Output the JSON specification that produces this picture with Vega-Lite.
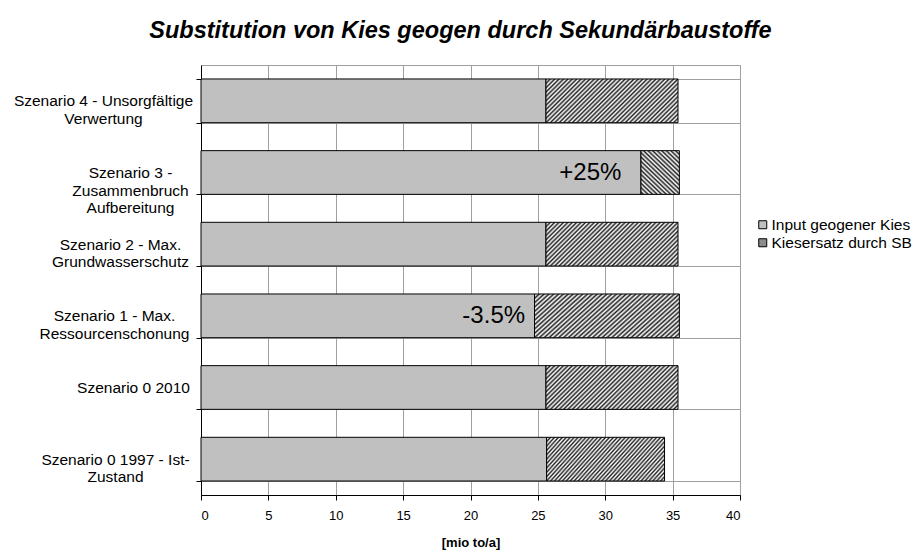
{
  "$schema": "https://vega.github.io/schema/vega-lite/v6.json",
  "width": 539,
  "height": 430,
  "autosize": "none",
  "padding": {"left": 201, "top": 65, "right": 175, "bottom": 60},
  "background": "white",
  "config": {"view": {"stroke": "#a0a0a0", "strokeWidth": 1}, "font": "Liberation Sans"},
  "title": {
    "text": "Substitution von Kies geogen durch Sekundärbaustoffe",
    "font": "Liberation Sans",
    "fontSize": 23.5,
    "fontWeight": "bold",
    "fontStyle": "italic",
    "color": "black",
    "anchor": "middle",
    "dx": -10,
    "offset": 16
  },
  "datasets": {
    "bars": [
      {"scenario": "Szenario 4 - Unsorgfältige\nVerwertung", "type": "Input geogener Kies", "value": 25.6},
      {"scenario": "Szenario 4 - Unsorgfältige\nVerwertung", "type": "Kiesersatz durch SB", "value": 9.8},
      {"scenario": "Szenario 3 -\nZusammenbruch\nAufbereitung", "type": "Input geogener Kies", "value": 32.65},
      {"scenario": "Szenario 3 -\nZusammenbruch\nAufbereitung", "type": "Kiesersatz durch SB", "value": 2.85},
      {"scenario": "Szenario 2 - Max.\nGrundwasserschutz", "type": "Input geogener Kies", "value": 25.6},
      {"scenario": "Szenario 2 - Max.\nGrundwasserschutz", "type": "Kiesersatz durch SB", "value": 9.8},
      {"scenario": "Szenario 1 - Max.\nRessourcenschonung", "type": "Input geogener Kies", "value": 24.75},
      {"scenario": "Szenario 1 - Max.\nRessourcenschonung", "type": "Kiesersatz durch SB", "value": 10.75},
      {"scenario": "Szenario 0 2010", "type": "Input geogener Kies", "value": 25.6},
      {"scenario": "Szenario 0 2010", "type": "Kiesersatz durch SB", "value": 9.8},
      {"scenario": "Szenario 0 1997 - Ist-\nZustand", "type": "Input geogener Kies", "value": 25.65},
      {"scenario": "Szenario 0 1997 - Ist-\nZustand", "type": "Kiesersatz durch SB", "value": 8.75}
    ],
    "annot": [
      {"scenario": "Szenario 3 -\nZusammenbruch\nAufbereitung", "pos": 31.2, "label": "+25%"},
      {"scenario": "Szenario 1 - Max.\nRessourcenschonung", "pos": 24.05, "label": "-3.5%"}
    ]
  },
  "layer": [
    {
      "data": {"name": "bars"},
      "mark": {"type": "bar", "stroke": "black", "strokeWidth": 1},
      "encoding": {
        "y": {
          "field": "scenario",
          "type": "nominal",
          "sort": null,
          "scale": {
            "domain": [
              "Szenario 4 - Unsorgfältige\nVerwertung",
              "Szenario 3 -\nZusammenbruch\nAufbereitung",
              "Szenario 2 - Max.\nGrundwasserschutz",
              "Szenario 1 - Max.\nRessourcenschonung",
              "Szenario 0 2010",
              "Szenario 0 1997 - Ist-\nZustand"
            ],
            "paddingInner": 0.39,
            "paddingOuter": 0.195
          },
          "axis": {
            "title": null,
            "tickBand": "extent",
            "grid": true,
            "gridColor": "#a0a0a0",
            "gridWidth": 1,
            "domainColor": "black",
            "tickColor": "black",
            "tickSize": 5,
            "labelFont": "Liberation Sans",
            "labelFontSize": 15.5,
            "labelColor": "black",
            "labelAlign": "center",
            "labelBaseline": "middle",
            "labelPadding": {"expr": "datum.value == null ? 0 : datum.value[9] === '4' ? 93 : datum.value[9] === '3' ? 66 : datum.value[9] === '2' ? 76 : datum.value[9] === '1' ? 82 : datum.value[11] === '2' ? 63 : 81"},
            "labelLineHeight": 17.5,
            "labelLimit": 0,
            "labelExpr": "datum.value == null ? '' : split(datum.value, '\\n')"
          }
        },
        "x": {
          "field": "value",
          "type": "quantitative",
          "stack": "zero",
          "scale": {"domain": [0, 40], "nice": false},
          "axis": {
            "values": [0, 5, 10, 15, 20, 25, 30, 35, 40],
            "grid": true,
            "gridColor": "#a0a0a0",
            "domainColor": "black",
            "tickColor": "black",
            "tickSize": 5,
            "labelFont": "Liberation Sans",
            "labelFontSize": 13,
            "labelColor": "black",
            "labelPadding": 9,
            "title": "[mio to/a]",
            "titleFont": "Liberation Sans",
            "titleFontSize": 13,
            "titleFontWeight": "bold",
            "titleColor": "black",
            "titlePadding": 14
          }
        },
        "fill": {
          "field": "type",
          "type": "nominal",
          "scale": {"domain": ["Input geogener Kies", "Kiesersatz durch SB"], "range": ["#c0c0c0", "#8c8c8c"]},
          "condition": {
            "test": "datum.type === 'Kiesersatz durch SB'",
            "value": {
              "gradient": "linear",
              "x1": 0, "y1": 0, "x2": 1.2, "y2": 0.4,
              "stops": [
                {"offset": 0, "color": "#222222"}, {"offset": 0.0125, "color": "#ffffff"},
                {"offset": 0.025, "color": "#222222"}, {"offset": 0.0375, "color": "#ffffff"},
                {"offset": 0.05, "color": "#222222"}, {"offset": 0.0625, "color": "#ffffff"},
                {"offset": 0.075, "color": "#222222"}, {"offset": 0.0875, "color": "#ffffff"},
                {"offset": 0.1, "color": "#222222"}, {"offset": 0.1125, "color": "#ffffff"},
                {"offset": 0.125, "color": "#222222"}, {"offset": 0.1375, "color": "#ffffff"},
                {"offset": 0.15, "color": "#222222"}, {"offset": 0.1625, "color": "#ffffff"},
                {"offset": 0.175, "color": "#222222"}, {"offset": 0.1875, "color": "#ffffff"},
                {"offset": 0.2, "color": "#222222"}, {"offset": 0.2125, "color": "#ffffff"},
                {"offset": 0.225, "color": "#222222"}, {"offset": 0.2375, "color": "#ffffff"},
                {"offset": 0.25, "color": "#222222"}, {"offset": 0.2625, "color": "#ffffff"},
                {"offset": 0.275, "color": "#222222"}, {"offset": 0.2875, "color": "#ffffff"},
                {"offset": 0.3, "color": "#222222"}, {"offset": 0.3125, "color": "#ffffff"},
                {"offset": 0.325, "color": "#222222"}, {"offset": 0.3375, "color": "#ffffff"},
                {"offset": 0.35, "color": "#222222"}, {"offset": 0.3625, "color": "#ffffff"},
                {"offset": 0.375, "color": "#222222"}, {"offset": 0.3875, "color": "#ffffff"},
                {"offset": 0.4, "color": "#222222"}, {"offset": 0.4125, "color": "#ffffff"},
                {"offset": 0.425, "color": "#222222"}, {"offset": 0.4375, "color": "#ffffff"},
                {"offset": 0.45, "color": "#222222"}, {"offset": 0.4625, "color": "#ffffff"},
                {"offset": 0.475, "color": "#222222"}, {"offset": 0.4875, "color": "#ffffff"},
                {"offset": 0.5, "color": "#222222"}, {"offset": 0.5125, "color": "#ffffff"},
                {"offset": 0.525, "color": "#222222"}, {"offset": 0.5375, "color": "#ffffff"},
                {"offset": 0.55, "color": "#222222"}, {"offset": 0.5625, "color": "#ffffff"},
                {"offset": 0.575, "color": "#222222"}, {"offset": 0.5875, "color": "#ffffff"},
                {"offset": 0.6, "color": "#222222"}, {"offset": 0.6125, "color": "#ffffff"},
                {"offset": 0.625, "color": "#222222"}, {"offset": 0.6375, "color": "#ffffff"},
                {"offset": 0.65, "color": "#222222"}, {"offset": 0.6625, "color": "#ffffff"},
                {"offset": 0.675, "color": "#222222"}, {"offset": 0.6875, "color": "#ffffff"},
                {"offset": 0.7, "color": "#222222"}, {"offset": 0.7125, "color": "#ffffff"},
                {"offset": 0.725, "color": "#222222"}, {"offset": 0.7375, "color": "#ffffff"},
                {"offset": 0.75, "color": "#222222"}, {"offset": 0.7625, "color": "#ffffff"},
                {"offset": 0.775, "color": "#222222"}, {"offset": 0.7875, "color": "#ffffff"},
                {"offset": 0.8, "color": "#222222"}, {"offset": 0.8125, "color": "#ffffff"},
                {"offset": 0.825, "color": "#222222"}, {"offset": 0.8375, "color": "#ffffff"},
                {"offset": 0.85, "color": "#222222"}, {"offset": 0.8625, "color": "#ffffff"},
                {"offset": 0.875, "color": "#222222"}, {"offset": 0.8875, "color": "#ffffff"},
                {"offset": 0.9, "color": "#222222"}, {"offset": 0.9125, "color": "#ffffff"},
                {"offset": 0.925, "color": "#222222"}, {"offset": 0.9375, "color": "#ffffff"},
                {"offset": 0.95, "color": "#222222"}, {"offset": 0.9625, "color": "#ffffff"},
                {"offset": 0.975, "color": "#222222"}, {"offset": 0.9875, "color": "#ffffff"},
                {"offset": 1, "color": "#222222"}
              ]
            }
          },
          "legend": {
            "title": null,
            "orient": "none",
            "legendX": 554,
            "legendY": 152,
            "symbolType": "square",
            "symbolSize": 64,
            "symbolStrokeColor": "black",
            "symbolStrokeWidth": 1,
            "labelFont": "Liberation Sans",
            "labelFontSize": 15.5,
            "labelColor": "black",
            "labelOffset": 1,
            "rowPadding": 1
          }
        }
      }
    },
    {
      "data": {"name": "annot"},
      "mark": {"type": "text", "align": "right", "baseline": "middle", "fontSize": 24, "font": "Liberation Sans", "color": "black"},
      "encoding": {
        "y": {"field": "scenario", "type": "nominal", "sort": null},
        "x": {"field": "pos", "type": "quantitative"},
        "text": {"field": "label"}
      }
    }
  ]
}
